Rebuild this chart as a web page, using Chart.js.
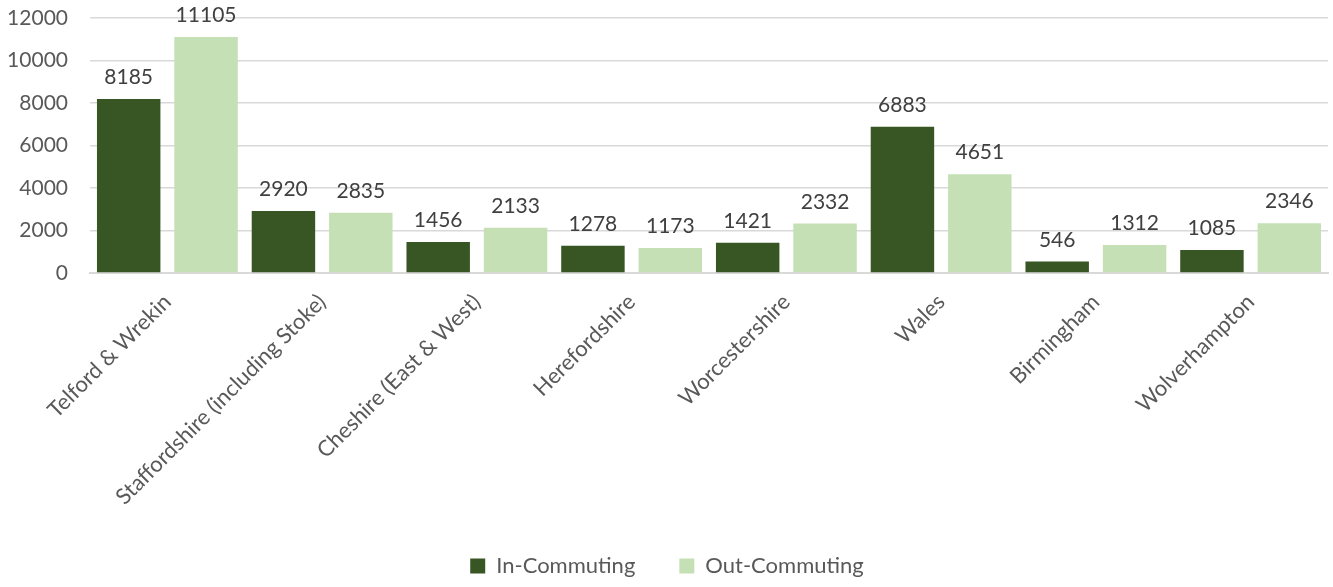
<!DOCTYPE html>
<html lang="en">
<head>
    <meta charset="UTF-8">
    <title>Commuting Flows</title>
    <style>
        body {
            margin: 0;
            background: #ffffff;
        }
        #chart-container {
            width: 1333px;
            height: 587px;
        }
    </style>
    <script src="https://cdn.jsdelivr.net/npm/chart.js"></script>
</head>
<body>
    <div id="chart-container">
        <canvas id="commuteChart"></canvas>
    </div>
    <script>
        const areas = [
            'Telford & Wrekin',
            'Staffordshire (including Stoke)',
            'Cheshire (East & West)',
            'Herefordshire',
            'Worcestershire',
            'Wales',
            'Birmingham',
            'Wolverhampton'
        ];
        const inCommuting = [8185, 2920, 1456, 1278, 1421, 6883, 546, 1085];
        const outCommuting = [11105, 2835, 2133, 1173, 2332, 4651, 1312, 2346];
        const yTicks = [0, 2000, 4000, 6000, 8000, 10000, 12000];

        const fontFamily = 'Lato, "Open Sans", sans-serif';
        const textColor = '#595959';

        // draws the value above each bar
        const valueLabels = {
            id: 'valueLabels',
            afterDatasetsDraw(chart) {
                const ctx = chart.ctx;
                ctx.save();
                ctx.font = '21px ' + fontFamily;
                ctx.fillStyle = '#404040';
                ctx.textAlign = 'center';
                ctx.textBaseline = 'bottom';
                chart.data.datasets.forEach((ds, i) => {
                    chart.getDatasetMeta(i).data.forEach((bar, j) => {
                        ctx.fillText(String(ds.data[j]), bar.x, bar.y - 11);
                    });
                });
                ctx.restore();
            }
        };

        const ctx = document.getElementById('commuteChart').getContext('2d');
        new Chart(ctx, {
            type: 'bar',
            data: {
                labels: areas,
                datasets: [{
                    label: 'In-Commuting',
                    data: inCommuting,
                    backgroundColor: '#375623',
                    barPercentage: 0.82,
                    categoryPercentage: 1.0
                }, {
                    label: 'Out-Commuting',
                    data: outCommuting,
                    backgroundColor: '#c5e0b4',
                    barPercentage: 0.82,
                    categoryPercentage: 1.0
                }]
            },
            options: {
                responsive: true,
                maintainAspectRatio: false,
                animation: false,
                layout: {
                    padding: { left: 6, right: 5, top: 18, bottom: 0 }
                },
                scales: {
                    x: {
                        grid: { display: false },
                        border: { color: '#d9d9d9', width: 2 },
                        ticks: {
                            color: textColor,
                            font: { family: fontFamily, size: 22 },
                            minRotation: 45,
                            maxRotation: 45,
                            padding: 8
                        },
                        afterFit(scale) {
                            scale.height = 238;
                            scale.paddingLeft = 0;
                            scale.paddingRight = 0;
                        }
                    },
                    y: {
                        min: 0,
                        max: 12000,
                        border: { display: false },
                        grid: { color: '#d9d9d9', lineWidth: 1.5, drawTicks: false },
                        afterBuildTicks(scale) {
                            scale.ticks = yTicks.map(v => ({ value: v }));
                        },
                        ticks: {
                            color: textColor,
                            font: { family: fontFamily, size: 21 },
                            padding: 22,
                            callback: v => String(v)
                        },
                        afterFit(scale) {
                            scale.width = 84;
                            scale.paddingTop = 0;
                            scale.paddingBottom = 0;
                        }
                    }
                },
                plugins: {
                    legend: {
                        position: 'bottom',
                        labels: {
                            color: textColor,
                            font: { family: fontFamily, size: 22 },
                            boxWidth: 15,
                            boxHeight: 15,
                            padding: 44
                        }
                    },
                    tooltip: { enabled: false }
                }
            },
            plugins: [valueLabels]
        });
    </script>
</body>
</html>
